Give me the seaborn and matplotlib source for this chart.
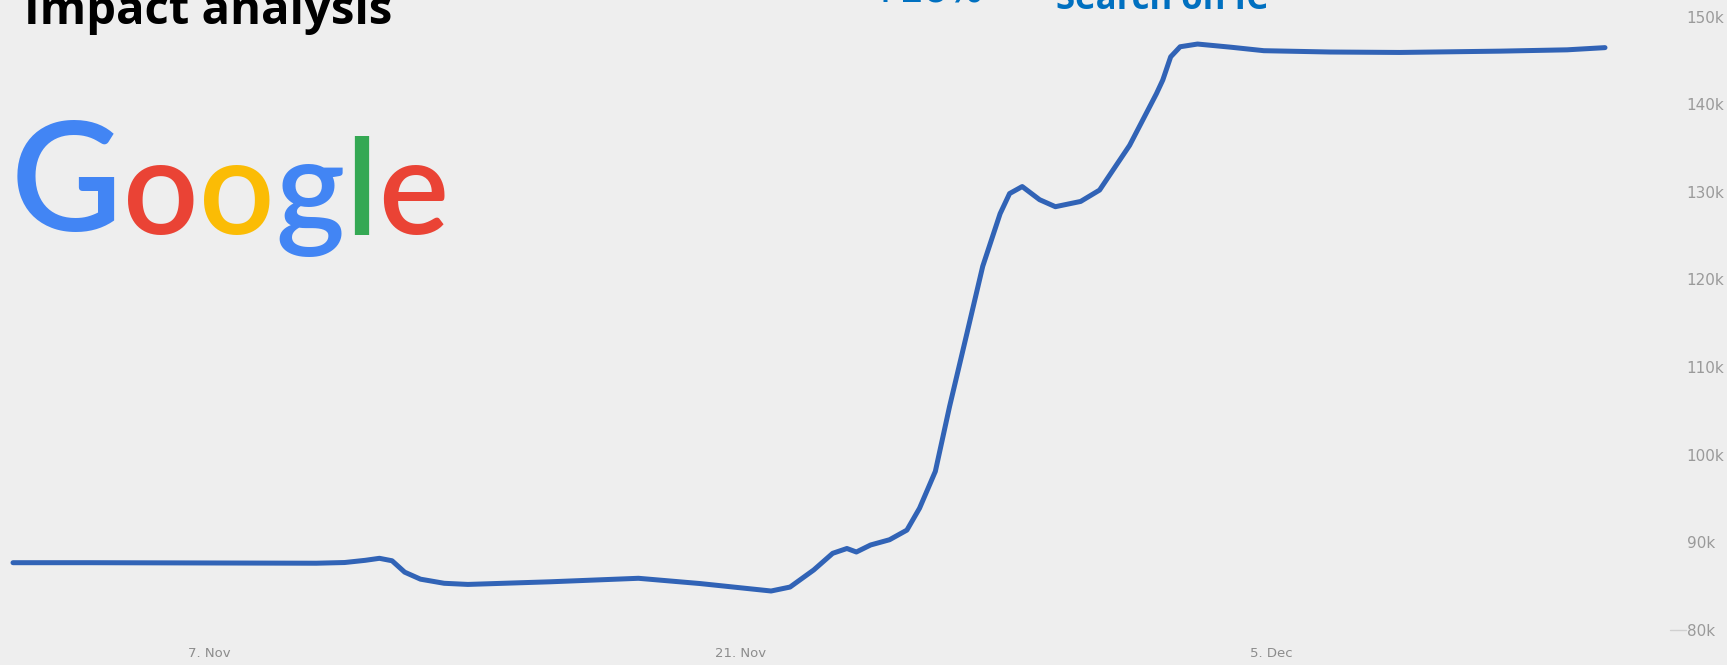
import matplotlib
matplotlib.use("Agg")
import matplotlib.pyplot as plt
from matplotlib.transforms import ScaledTranslation
import pandas as pd
import seaborn as sns

# curve readings: timestamp -> searches
dates = [
    "2017-11-02 00:00", "2017-11-04 00:00", "2017-11-06 00:00", "2017-11-08 00:00",
    "2017-11-10 00:00", "2017-11-10 18:00", "2017-11-11 07:00", "2017-11-11 16:00",
    "2017-11-12 00:00", "2017-11-12 08:00", "2017-11-12 18:00", "2017-11-13 09:00",
    "2017-11-14 00:00", "2017-11-16 04:00", "2017-11-18 12:00", "2017-11-20 03:00",
    "2017-11-22 00:00", "2017-11-22 12:00", "2017-11-23 03:00", "2017-11-23 15:00",
    "2017-11-24 00:00", "2017-11-24 06:00", "2017-11-24 15:00", "2017-11-25 03:00",
    "2017-11-25 14:00", "2017-11-25 22:00", "2017-11-26 08:00", "2017-11-26 17:00",
    "2017-11-27 04:00", "2017-11-27 14:00", "2017-11-28 01:00", "2017-11-28 07:00",
    "2017-11-28 15:00", "2017-11-29 02:00", "2017-11-29 12:00", "2017-11-30 04:00",
    "2017-11-30 16:00", "2017-12-01 11:00", "2017-12-02 04:00", "2017-12-02 08:00",
    "2017-12-02 13:00", "2017-12-02 19:00", "2017-12-03 06:00", "2017-12-04 03:00",
    "2017-12-05 00:00", "2017-12-06 18:00", "2017-12-08 14:00", "2017-12-11 06:00",
    "2017-12-13 00:00", "2017-12-14 00:00",
]
searches = [
    87680, 87680, 87660, 87640,
    87620, 87700, 87950, 88180,
    87900, 86600, 85800, 85330,
    85200, 85500, 85900, 85300,
    84450, 84900, 86850, 88750,
    89300, 88900, 89700, 90300,
    91400, 93900, 98100, 105500,
    113850, 121500, 127500, 129800,
    130600, 129100, 128300, 128900,
    130200, 135300, 141200, 142750,
    145400, 146550, 146860, 146500,
    146100, 145950, 145900, 146050,
    146200, 146450,
]

tick_dates = ["2017-11-07", "2017-11-21", "2017-12-05"]
tick_labels = ["7. Nov", "21. Nov", "5. Dec"]
y_ticks = [80000, 90000, 100000, 110000, 120000, 130000, 140000, 150000]

title = "Impact analysis"
headline = "+16%"
subtitle = "Search on IC"
logo_letters = ["G", "o", "o", "g", "l", "e"]
logo_colors = ["#4285F4", "#EA4335", "#FBBC05", "#4285F4", "#34A853", "#EA4335"]

BG = "#eeeeee"
LINE = "#3163b6"
BLUE_TXT = "#0070c0"
W, H = 1727, 665

sns.set_theme(style="white")
plt.rcParams["font.family"] = ["DejaVu Sans"]

df = pd.DataFrame({"date": pd.to_datetime(dates), "searches": searches})

fig = plt.figure(figsize=(W / 100, H / 100), dpi=100, facecolor=BG)
ax = fig.add_axes([0, 35 / H, 1620 / W, 630 / H])
ax.set_facecolor(BG)

sns.lineplot(data=df, x="date", y="searches", ax=ax, color=LINE,
             linewidth=3.6, estimator=None)

px_day = 37.9
ax.set_xlim(df["date"].iloc[0] - pd.Timedelta(days=13 / px_day),
            df["date"].iloc[-1] + pd.Timedelta(days=15 / px_day))
ax.set_ylim(80000, 80000 + 630 / 8.764 * 1000)

ax.set_xticks(pd.to_datetime(tick_dates))
ax.set_xticklabels(tick_labels)
ax.yaxis.tick_right()
ax.set_yticks(y_ticks)
ax.set_yticklabels([f"{v // 1000}k" for v in y_ticks])
ax.tick_params(axis="y", length=0, pad=48, labelsize=11, labelcolor="#9a9a9a")
ax.tick_params(axis="x", length=0, pad=12, labelsize=9.5, labelcolor="#8c8c8c")
ax.set_xlabel("")
ax.set_ylabel("")
sns.despine(ax=ax, left=True, bottom=True, right=True, top=True)

# date labels sit a few px right of their ticks in the original
shift = ScaledTranslation(7 / 100, 0, fig.dpi_scale_trans)
for lbl in ax.get_xticklabels():
    lbl.set_transform(lbl.get_transform() + shift)

# faint stub of the x axis next to the 80k label
ax.plot([1.031, 1.041], [0, 0], transform=ax.transAxes, color="#d0d0d0",
        lw=1, clip_on=False)

# headings (cut by the top edge, as in the slide)
fig.text(24 / W, 1 - 24 / H, title, fontsize=34, fontweight="bold",
         family="Open Sans", color="black", va="baseline")
fig.text(870 / W, 1 - 1 / H, headline, fontsize=25, fontweight="bold",
         family="DejaVu Sans", color=BLUE_TXT, va="baseline")
fig.text(1056 / W, 1 - 9 / H, subtitle, fontsize=25, fontweight="bold",
         family="Open Sans", color=BLUE_TXT, va="baseline")

# Google wordmark, letter by letter
prev = fig.text(11 / W, 1 - 231 / H, logo_letters[0], fontsize=110,
                family="Lato", fontweight="semibold", color=logo_colors[0],
                va="baseline")
fig.canvas.draw()
for letter, col in zip(logo_letters[1:], logo_colors[1:]):
    prev = ax.annotate(letter, xy=(1, 0), xycoords=prev, xytext=(0.5, 0),
                       textcoords="offset points", fontsize=95, family="Lato",
                       fontweight="semibold", color=col, va="bottom",
                       annotation_clip=False)

fig.savefig("out.png", dpi=100, facecolor=BG)
